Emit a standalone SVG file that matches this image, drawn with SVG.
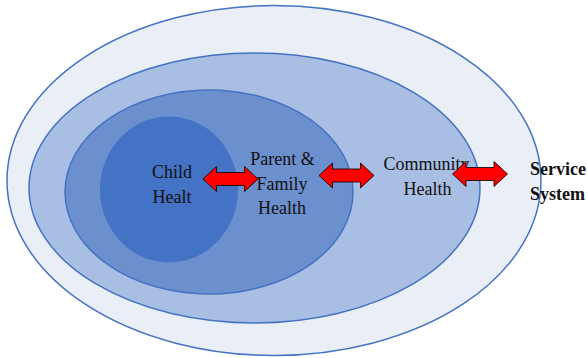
<svg xmlns="http://www.w3.org/2000/svg" width="587" height="358" viewBox="0 0 587 358">
  <style>
    .ring { stroke: #4472C4; stroke-width: 1.5; }
    text { font-family: "Liberation Serif", "Times New Roman", Times, "DejaVu Serif", serif; font-size: 18px; fill: #111; }
    .lbl { text-anchor: middle; }
    .bold { font-weight: bold; text-anchor: start; }
    .arrow { fill: #FF0000; stroke: #000; stroke-width: 0.8; stroke-linejoin: miter; }
  </style>
  <defs>
    <!-- double-headed block arrow, 55 wide, centred on origin -->
    <path id="dbl" d="M-27.5,0 L-14,-12.5 L-14,-6.5 L14,-6.5 L14,-12.5 L27.5,0 L14,12.5 L14,6.5 L-14,6.5 L-14,12.5 Z"/>
  </defs>
  <rect width="587" height="358" fill="#FFFFFF"/>

  <g id="service-system">
    <ellipse class="ring" cx="274" cy="180.5" rx="267" ry="175" fill="#E9EEF7"/>
    <text class="bold" x="530" y="175" font-family="Liberation Serif, serif">Service</text>
    <text class="bold" x="530" y="200" font-family="Liberation Serif, serif">System</text>
  </g>

  <g id="community-health">
    <ellipse class="ring" cx="254.5" cy="188" rx="225.5" ry="135" fill="#A9BEE3"/>
    <text class="lbl" x="426.5" y="170" font-family="Liberation Serif, serif">Community</text>
    <text class="lbl" x="427.5" y="195" font-family="Liberation Serif, serif">Health</text>
  </g>

  <g id="parent-family-health">
    <ellipse class="ring" cx="209" cy="192" rx="144" ry="102" fill="#6C8FCE"/>
    <text class="lbl" x="282.5" y="165" font-family="Liberation Serif, serif">Parent &amp;</text>
    <text class="lbl" x="282" y="190" font-family="Liberation Serif, serif">Family</text>
    <text class="lbl" x="282" y="214" font-family="Liberation Serif, serif">Health</text>
  </g>

  <g id="child-health">
    <ellipse cx="169" cy="189.5" rx="69" ry="73" fill="#4472C4"/>
    <text class="lbl" x="172" y="178" font-family="Liberation Serif, serif">Child</text>
    <text class="lbl" x="172" y="203" font-family="Liberation Serif, serif">Healt</text>
  </g>

  <g id="connectors">
    <use href="#dbl" class="arrow" x="230.5" y="179"/>
    <use href="#dbl" class="arrow" x="346.5" y="175.5"/>
    <use href="#dbl" class="arrow" x="480" y="174"/>
  </g>
</svg>
